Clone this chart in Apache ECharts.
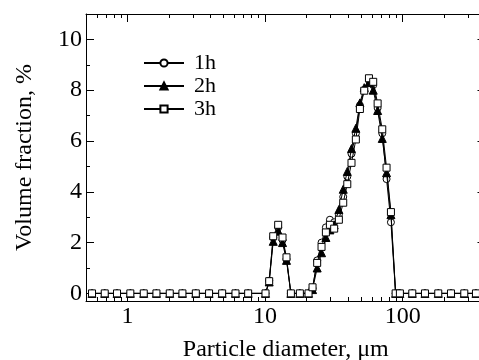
<!DOCTYPE html>
<html>
<head>
<meta charset="utf-8">
<script src="https://cdn.jsdelivr.net/npm/echarts@6/dist/echarts.min.js"></script>
<style>html,body{margin:0;padding:0;background:#fff;}#c{width:479px;height:360px;}</style>
</head>
<body>
<div id="c"></div>
<script>
// Particle diameter (um) for each measured bin
var diameters = [0.553,0.684,0.840,1.05,1.314,1.625,2.03,2.51,3.14,3.92,4.88,6.10,7.54,10.08,
  10.72,11.47,12.46,13.40,14.32,15.41,17.91,20.70,22.14,23.93,25.74,27.68,29.6,31.8,34.4,37.0,39.6,42.5,45.7,48.9,52.6,56.9,61.1,65.8,71.1,76.4,82.2,
  88.9,95.5,117.5,145.3,181.5,224.5,280.6,341];
var v1h = [0,0,0,0,0,0,0,0,0,0,0,0,0,0,
  0.5,2.2,2.6,2.1,1.35,0,0,0,0.2,1.3,2.0,2.6,2.9,2.8,3.1,3.8,4.6,5.5,6.3,7.4,8.0,8.4,8.2,7.3,6.3,4.5,2.8,
  0,0,0,0,0,0,0,0];
var v2h = [0,0,0,0,0,0,0,0,0,0,0,0,0,0,
  0.45,2.05,2.45,2.0,1.3,0,0,0,0.15,1.0,1.6,2.2,2.5,2.7,3.3,4.1,4.8,5.7,6.5,7.5,8.1,8.3,8.0,7.2,6.1,4.75,3.1,
  0,0,0,0,0,0,0,0];
var v3h = [0,0,0,0,0,0,0,0,0,0,0,0,0,0,
  0.48,2.25,2.7,2.2,1.42,0,0,0,0.24,1.2,1.83,2.4,2.7,2.55,2.9,3.57,4.3,5.14,6.06,7.26,7.98,8.47,8.33,7.48,6.46,4.95,3.2,
  0,0,0,0,0,0,0,0];
var seriesNames = ['1h','2h','3h'];
var xMajorTicks = [1,10,100];
var xMinorTicks = [0.6,0.7,0.8,0.9,2,3,4,5,6,7,8,9,20,30,40,50,60,70,80,90,200,300,400];
var yMajorTicks = [0,2,4,6,8,10];
var yMinorTicks = [1,3,5,7,9];

function pairs(vals){ return diameters.map(function(d,i){ return [d, vals[i]]; }); }
var FONT = 'Liberation Serif';
var X_MIN = 0.5, X_MAX = 400, Y_MIN = -0.3, Y_MAX = 11;

function xAxis(pos, major, withLabel){
  return {
    type:'log', logBase:10, min:X_MIN, max:X_MAX, position:pos,
    name: withLabel ? 'Particle diameter, \u03bcm' : '',
    nameLocation:'middle', nameGap:37,
    nameTextStyle:{fontFamily:FONT, fontSize:24, color:'#000'},
    axisLine:{show:major, onZero:false, lineStyle:{color:'#000', width:1}},
    axisTick:{show:true, inside:true, length: major?8:4, customValues: major?xMajorTicks:xMinorTicks, lineStyle:{color:'#000', width:1}},
    axisLabel:{show:withLabel, customValues:xMajorTicks, margin:4, fontFamily:FONT, fontSize:24, color:'#000'},
    splitLine:{show:false}, minorTick:{show:false}
  };
}
function yAxis(pos, major, withLabel){
  return {
    type:'value', min:Y_MIN, max:Y_MAX, position:pos,
    name: withLabel ? 'Volume fraction, %' : '',
    nameLocation:'middle', nameGap:49,
    nameTextStyle:{fontFamily:FONT, fontSize:24, color:'#000'},
    axisLine:{show:major, onZero:false, lineStyle:{color:'#000', width:1}},
    axisTick:{show:true, inside:true, length: major?8:4, customValues: major?yMajorTicks:yMinorTicks, lineStyle:{color:'#000', width:1}},
    axisLabel:{show:withLabel, customValues:yMajorTicks, margin:4, fontFamily:FONT, fontSize:24, color:'#000'},
    splitLine:{show:false}
  };
}

var symbols = ['circle','triangle','rect'];
var fills = ['#fff','#000','#fff'];
var allVals = [v1h, v2h, v3h];
var series = seriesNames.map(function(n,i){
  return {
    name:n, type:'line', xAxisIndex:0, yAxisIndex:0,
    data: pairs(allVals[i]),
    symbol: symbols[i], symbolSize: i===1?8:7,
    showAllSymbol:true,
    lineStyle:{color:'#000', width:1},
    itemStyle:{color:fills[i], borderColor:'#000', borderWidth:1},
    z: 2+i, animation:false
  };
});

var chart = echarts.init(document.getElementById('c'), null, {renderer:'canvas'});
chart.setOption({
  animation:false,
  backgroundColor:'#fff',
  grid:{left:86, top:14, right:-6.5, bottom:59, containLabel:false, outerBoundsMode:'none'},
  xAxis:[xAxis('bottom',true,true), xAxis('bottom',false,false), xAxis('top',true,false), xAxis('top',false,false)],
  yAxis:[yAxis('left',true,true), yAxis('left',false,false), yAxis('right',true,false), yAxis('right',false,false)],
  legend:{
    data:seriesNames, orient:'vertical', left:138, top:47, itemGap:1,
    itemWidth:40, itemHeight:9,
    textStyle:{fontFamily:FONT, fontSize:22, color:'#000', padding:[0,0,0,5]}
  },
  series: series
});
</script>
</body>
</html>
